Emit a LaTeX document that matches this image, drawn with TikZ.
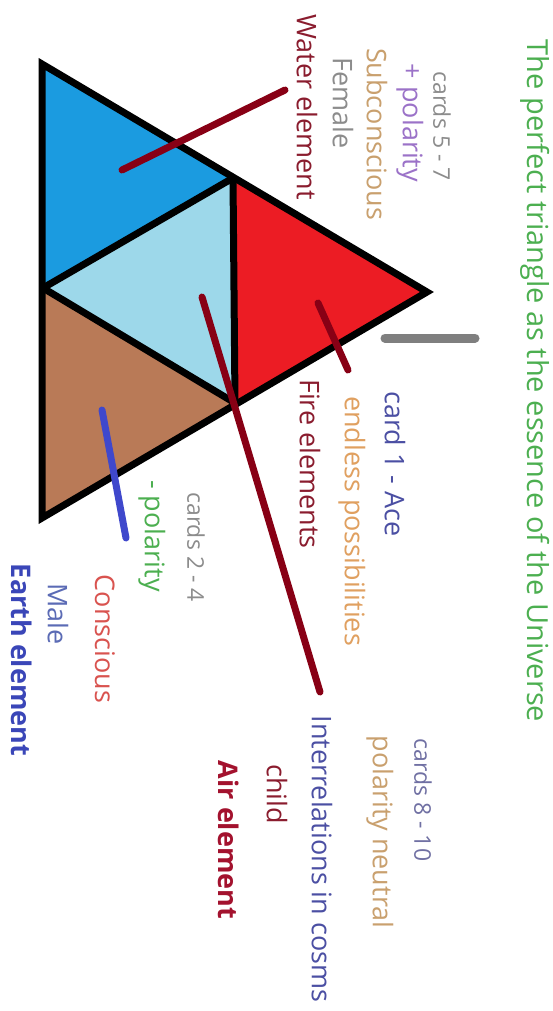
\documentclass[tikz,border=0pt]{standalone}
\usepackage{fontspec}
\setmainfont{Open Sans}
\usepackage{tikz}
\definecolor{cDeep}{HTML}{1B9BE0}
\definecolor{cPale}{HTML}{9DD8EA}
\definecolor{cFire}{HTML}{EC1C24}
\definecolor{cSoil}{HTML}{B97A57}
\definecolor{cRod}{HTML}{880015}
\definecolor{cRodB}{HTML}{3F48CC}
\definecolor{cRodG}{HTML}{7F7F7F}
\definecolor{tGreen}{HTML}{4CAF50}
\definecolor{tGray}{HTML}{8C8C8C}
\definecolor{tLilac}{HTML}{9B72C8}
\definecolor{tTan}{HTML}{C9A06E}
\definecolor{tOrange}{HTML}{E0A060}
\definecolor{tWine}{HTML}{8A1C2E}
\definecolor{tInk}{HTML}{4B4FA3}
\definecolor{tRose}{HTML}{D9534F}
\definecolor{tSlate}{HTML}{5B6BB5}
\definecolor{tEarth}{HTML}{3A46B8}
\definecolor{tAir}{HTML}{A3122E}
\tikzset{
  edge/.style={line width=7pt, black, line join=miter},
  rod/.style={line width=7pt, cRod, line cap=round},
  lbl/.style={rotate=-90, inner sep=0pt, font=\fontsize{27}{30}\selectfont},
  lblS/.style={lbl, font=\fontsize{23}{26}\selectfont},
  lblB/.style={lbl, font=\fontsize{27}{30}\selectfont\bfseries},
}

\begin{document}
\begin{tikzpicture}[x=1pt,y=-1pt]
\useasboundingbox[fill=white] (0,0) rectangle (552,1011);
\coordinate (A) at (42,64);
\coordinate (B) at (42,518);
\coordinate (C) at (427,292);
\coordinate (M) at (43,288);
\coordinate (P) at (233,178);
\coordinate (Q) at (235,403);
\fill[cDeep] (A) -- (P) -- (M) -- cycle;
\fill[cPale] (P) -- (Q) -- (M) -- cycle;
\fill[cFire] (P) -- (C) -- (Q) -- cycle;
\fill[cSoil] (M) -- (Q) -- (B) -- cycle;
\draw[edge] (A) -- (C) -- (B) -- cycle;
\draw[edge, line join=round] (P) -- (Q) -- (M) -- cycle;
\node[lbl, tGreen, font=\fontsize{29}{32}\selectfont] (title) at (535,381) {The perfect triangle as the essence of the Universe};
\node[lblS, tGray] (c57) at (442,126) {cards 5 - 7};
\node[lbl, tLilac] (pplus) at (410,123) {+ polarity};
\node[lbl, tTan] (subc) at (377,134) {Subconscious};
\node[lbl, tGray] (fem) at (343,103) {Female};
\node[lbl, tWine] (water) at (307,107) {Water element};
\node[lbl, tInk] (ace) at (395,464) {card 1 - Ace};
\node[lbl, tOrange] (endl) at (352,521) {endless possibilities};
\node[lbl, tWine] (fire) at (310,464) {Fire elements};
\node[lblS, tGray] (c24) at (196,547) {cards 2 - 4};
\node[lbl, tGreen] (pminus) at (152,536) {- polarity};
\node[lbl, tRose] (consc) at (105,639) {Conscious};
\node[lbl, tSlate] (male) at (58,614) {Male};
\node[lblB, tEarth] (earth) at (22,660) {Earth element};
\node[lblS, tGray!80!blue] (c810) at (423,800) {cards 8 - 10};
\node[lbl, tTan] (pneut) at (380,832) {polarity neutral};
\node[lbl, tInk] (inter) at (322,859) {Interrelations in cosms};
\node[lbl, tWine] (child) at (277,794) {child};
\node[lblB, tAir] (air) at (229,840) {Air element};
\coordinate (w1) at (122,170); \coordinate (w2) at (285,90);
\coordinate (f1) at (318,303); \coordinate (f2) at (348,370);
\coordinate (a1) at (202,297); \coordinate (a2) at (320,692);
\coordinate (e1) at (102,410); \coordinate (e2) at (126,538);
\coordinate (g1) at (385,338); \coordinate (g2) at (475,338);
\draw[rod] (w1) -- (w2);
\draw[rod] (f1) -- (f2);
\draw[rod] (a1) -- (a2);
\draw[rod, cRodB] (e1) -- (e2);
\draw[rod, cRodG, line width=9pt] (g1) -- (g2);
\end{tikzpicture}
\end{document}
